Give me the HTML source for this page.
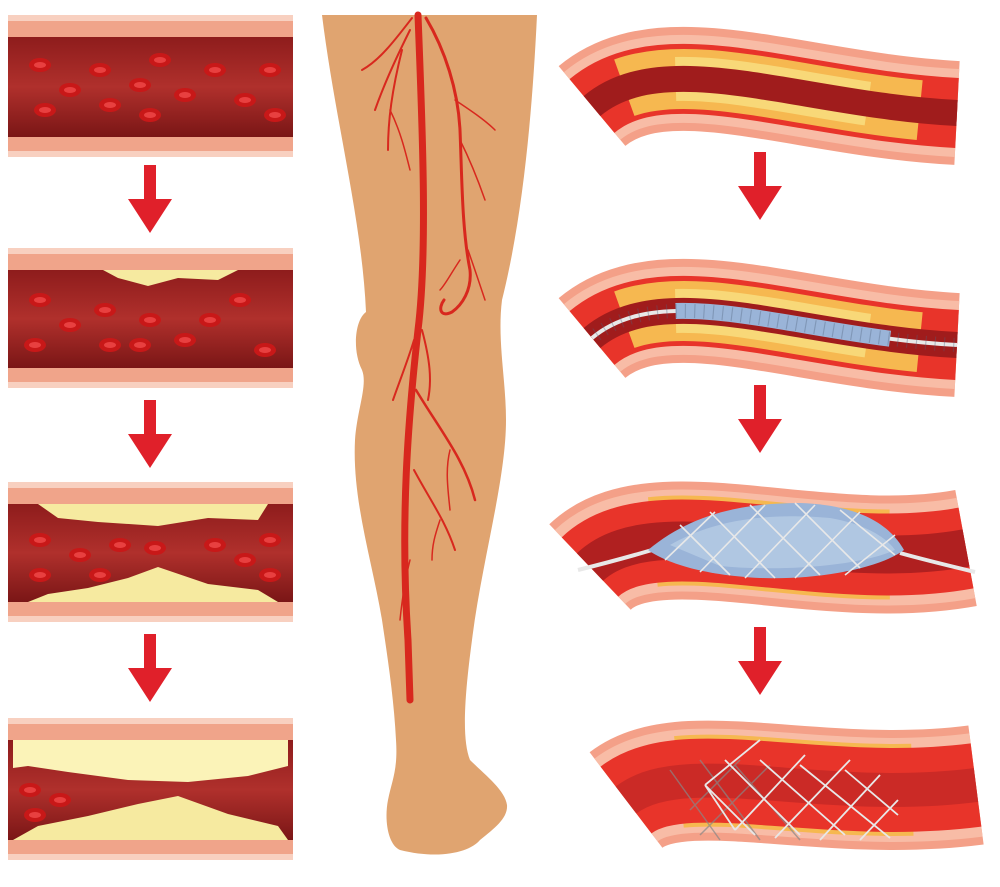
<!DOCTYPE html>
<html><head><meta charset="utf-8"><style>html,body{margin:0;padding:0;background:#fff}svg{display:block}</style></head>
<body>
<svg width="1000" height="887" viewBox="0 0 1000 887" xmlns="http://www.w3.org/2000/svg">
<defs>
<linearGradient id="lp" x1="0" y1="0" x2="0" y2="1">
<stop offset="0" stop-color="#8e1c1c"/><stop offset="0.5" stop-color="#b0302c"/><stop offset="1" stop-color="#7a1616"/>
</linearGradient>
<g id="arrow"><rect x="-6" y="0" width="12" height="38" fill="#e0202a"/><polygon points="-22,34 22,34 0,68" fill="#e0202a"/></g>
<g id="cell"><ellipse rx="11" ry="7" fill="#c81818"/><ellipse rx="6" ry="3" fill="#e84040"/></g>
<path id="c1" d="M592,106 C665,45 800,105 957,113"/>
<path id="c3" d="M590,567 C655,505 820,575 966,548"/>
<path id="c4" d="M626,800 C685,755 820,805 976,785"/>
</defs>

<!-- LEFT PANELS -->
<g transform="translate(8,15)">
<rect width="285" height="142" fill="#f0a48a"/>
<rect y="22" width="285" height="100" fill="url(#lp)"/>
<rect y="0" width="285" height="6" fill="#f8d0c0"/><rect y="136" width="285" height="6" fill="#f8d0c0"/>
</g>
<g transform="translate(8,248)">
<rect width="285" height="140" fill="#f0a48a"/>
<rect y="22" width="285" height="98" fill="url(#lp)"/>
<path d="M95,22 L230,22 L210,32 L170,30 L140,38 L110,30 Z" fill="#f6eaa0"/>
<rect width="285" height="6" fill="#f8d0c0"/><rect y="134" width="285" height="6" fill="#f8d0c0"/>
</g>
<g transform="translate(8,482)">
<rect width="285" height="140" fill="#f0a48a"/>
<rect y="22" width="285" height="98" fill="url(#lp)"/>
<path d="M30,22 L260,22 L250,38 L200,36 L150,44 L90,40 L50,36 Z" fill="#f6eaa0"/>
<path d="M20,120 L270,120 L250,108 L200,102 L150,85 L120,96 L80,106 L40,112 Z" fill="#f6eaa0"/>
<rect width="285" height="6" fill="#f8d0c0"/><rect y="134" width="285" height="6" fill="#f8d0c0"/>
</g>
<g transform="translate(8,718)">
<rect width="285" height="142" fill="#f0a48a"/>
<rect y="22" width="285" height="100" fill="url(#lp)"/>
<path d="M5,22 L280,22 L280,48 L240,58 L180,64 L120,62 L60,54 L20,48 L5,50 Z" fill="#fbf3b8"/>
<path d="M5,122 L280,122 L270,108 L220,96 L170,78 L130,86 L80,98 L30,108 Z" fill="#f6eaa0"/>
<rect width="285" height="6" fill="#f8d0c0"/><rect y="136" width="285" height="6" fill="#f8d0c0"/>
</g>
<use href="#cell" x="40" y="65"/><use href="#cell" x="70" y="90"/><use href="#cell" x="45" y="110"/><use href="#cell" x="100" y="70"/><use href="#cell" x="110" y="105"/><use href="#cell" x="140" y="85"/><use href="#cell" x="160" y="60"/><use href="#cell" x="185" y="95"/><use href="#cell" x="215" y="70"/><use href="#cell" x="245" y="100"/><use href="#cell" x="270" y="70"/><use href="#cell" x="275" y="115"/><use href="#cell" x="150" y="115"/>
<use href="#cell" x="40" y="300"/><use href="#cell" x="70" y="325"/><use href="#cell" x="35" y="345"/><use href="#cell" x="105" y="310"/><use href="#cell" x="110" y="345"/><use href="#cell" x="150" y="320"/><use href="#cell" x="185" y="340"/><use href="#cell" x="210" y="320"/><use href="#cell" x="240" y="300"/><use href="#cell" x="265" y="350"/><use href="#cell" x="140" y="345"/>
<use href="#cell" x="40" y="540"/><use href="#cell" x="80" y="555"/><use href="#cell" x="40" y="575"/><use href="#cell" x="120" y="545"/><use href="#cell" x="155" y="548"/><use href="#cell" x="215" y="545"/><use href="#cell" x="245" y="560"/><use href="#cell" x="270" y="540"/><use href="#cell" x="270" y="575"/><use href="#cell" x="100" y="575"/>
<use href="#cell" x="30" y="790"/><use href="#cell" x="60" y="800"/><use href="#cell" x="35" y="815"/>
<use href="#arrow" x="150" y="165"/><use href="#arrow" x="150" y="400"/><use href="#arrow" x="150" y="634"/>

<!-- LEG -->
<path d="M322,15 L537,15 C532,120 522,220 502,300 C497,340 506,380 506,420 C506,480 482,560 472,640 C464,700 462,740 470,760 C485,775 505,790 507,805 C508,818 495,828 480,840 C470,852 440,860 400,850 C388,845 384,820 388,800 C392,780 398,770 396,740 C394,700 388,660 382,620 C372,560 352,500 355,440 C357,410 368,385 362,370 C352,350 355,320 366,312 C362,220 335,120 322,15 Z" fill="#e0a470"/>
<g fill="none" stroke="#d8281e" stroke-linecap="round">
<path d="M418,15 C422,120 428,250 418,330 C408,420 400,520 408,640 L410,700" stroke-width="7"/>
<path d="M412,18 C395,40 380,60 362,70" stroke-width="2"/>
<path d="M410,30 C395,60 382,90 375,110" stroke-width="2"/>
<path d="M402,50 C392,90 388,120 388,150" stroke-width="2"/>
<path d="M390,110 C400,130 405,150 410,170" stroke-width="1.5"/>
<path d="M426,18 C445,50 458,90 460,130 C462,180 462,230 470,270 C472,290 462,305 452,312 C440,318 438,308 444,300" stroke-width="3"/>
<path d="M455,100 C470,110 485,120 495,130" stroke-width="1.5"/>
<path d="M460,140 C470,160 478,180 485,200" stroke-width="1.5"/>
<path d="M468,250 C475,270 480,285 485,300" stroke-width="1.5"/>
<path d="M460,260 C450,275 445,285 440,290" stroke-width="1.5"/>
<path d="M414,340 C408,360 400,380 393,400" stroke-width="2"/>
<path d="M422,330 C430,360 432,380 428,400" stroke-width="2"/>
<path d="M416,390 C440,430 465,460 475,500" stroke-width="2.5"/>
<path d="M450,450 C445,470 448,490 450,510" stroke-width="1.5"/>
<path d="M414,470 C430,500 445,520 455,550" stroke-width="2"/>
<path d="M440,520 C435,535 432,545 432,560" stroke-width="1.5"/>
<path d="M410,560 C405,580 402,600 400,620" stroke-width="1.5"/>
</g>

<!-- VESSEL 1 -->
<g fill="none">
<use href="#c1" stroke="#f4a088" stroke-width="104"/>
<use href="#c1" stroke="#f8bca6" stroke-width="88"/>
<use href="#c1" stroke="#e8342a" stroke-width="70"/>
<path d="M592,106 C665,45 800,105 957,113" pathLength="100" stroke="#f6b850" stroke-width="60" stroke-dasharray="0 10 80 100"/>
<path d="M592,106 C665,45 800,105 957,113" pathLength="100" stroke="#f8d878" stroke-width="44" stroke-dasharray="0 24 52 100"/>
<use href="#c1" stroke="#a01c1c" stroke-width="26"/>
</g>
<!-- VESSEL 2 -->
<g fill="none" transform="translate(0,232)">
<use href="#c1" stroke="#f4a088" stroke-width="104"/>
<use href="#c1" stroke="#f8bca6" stroke-width="88"/>
<use href="#c1" stroke="#e8342a" stroke-width="70"/>
<path d="M592,106 C665,45 800,105 957,113" pathLength="100" stroke="#f6b850" stroke-width="60" stroke-dasharray="0 10 80 100"/>
<path d="M592,106 C665,45 800,105 957,113" pathLength="100" stroke="#f8d878" stroke-width="44" stroke-dasharray="0 24 52 100"/>
<use href="#c1" stroke="#a01c1c" stroke-width="26"/>
<use href="#c1" stroke="#e8e8e8" stroke-width="4"/>
<path d="M592,106 C665,45 800,105 957,113" pathLength="100" stroke="#9ab4d8" stroke-width="16" stroke-dasharray="0 24 58 100"/>
<path d="M592,106 C665,45 800,105 957,113" pathLength="100" stroke="#50607a" stroke-width="14" stroke-dasharray="0.3 2.2" stroke-dashoffset="-24" opacity="0.35"/>
</g>
<!-- VESSEL 3 -->
<g fill="none">
<use href="#c3" stroke="#f4a088" stroke-width="118"/>
<use href="#c3" stroke="#f8bca6" stroke-width="102"/>
<path d="M590,567 C655,505 820,575 966,548" pathLength="100" stroke="#f6b850" stroke-width="90" stroke-dasharray="0 18 62 100"/>
<use href="#c3" stroke="#e8342a" stroke-width="82"/>
<use href="#c3" stroke="#b02020" stroke-width="38"/>
<path d="M578,570 C610,562 635,555 652,550 M900,553 C925,560 950,566 975,572" stroke="#e8e8e8" stroke-width="4"/>
<path d="M648,550 C690,515 740,503 800,503 C860,505 890,525 904,550 C880,568 820,580 760,578 C700,575 665,562 648,550 Z" fill="#9ab4d8"/>
<path d="M670,545 C710,522 760,512 830,518 C870,525 888,540 895,550 C860,566 780,572 720,566 Z" fill="#c0d4ea" opacity="0.6"/>
<g stroke="#e8e8e8" stroke-width="1.6">
<path d="M680,525 L730,575 M710,512 L775,578 M750,505 L820,575 M795,503 L860,568 M840,510 L895,555 M715,512 L665,560 M765,505 L700,572 M815,505 L745,578 M860,512 L795,578 M895,535 L845,575"/></g>
</g>
<!-- VESSEL 4 -->
<g fill="none">
<use href="#c4" stroke="#f4a088" stroke-width="120"/>
<use href="#c4" stroke="#f8bca6" stroke-width="104"/>
<path d="M626,800 C685,755 820,805 976,785" pathLength="100" stroke="#f6b850" stroke-width="92" stroke-dasharray="0 16 66 100"/>
<use href="#c4" stroke="#e8342a" stroke-width="84"/>
<use href="#c4" stroke="#b82424" stroke-width="34" opacity="0.6"/>
<g stroke="#888" stroke-width="1.5" opacity="0.7">
<path d="M670,770 L720,840 M700,760 L760,840 M735,765 L800,840 M690,810 L740,760 M700,835 L770,765"/></g>
<g stroke="#e8e8e8" stroke-width="1.8">
<path d="M705,785 L755,835 M725,760 L800,835 M760,760 L845,835 M800,765 L890,838 M845,770 L898,815 M705,785 L760,740 M735,830 L805,755 M775,838 L850,760 M820,840 L880,775 M860,840 L898,800 M705,785 L735,830"/></g>
</g>
<use href="#arrow" x="760" y="152"/><use href="#arrow" x="760" y="385"/><use href="#arrow" x="760" y="627"/>
</svg>
</body></html>
